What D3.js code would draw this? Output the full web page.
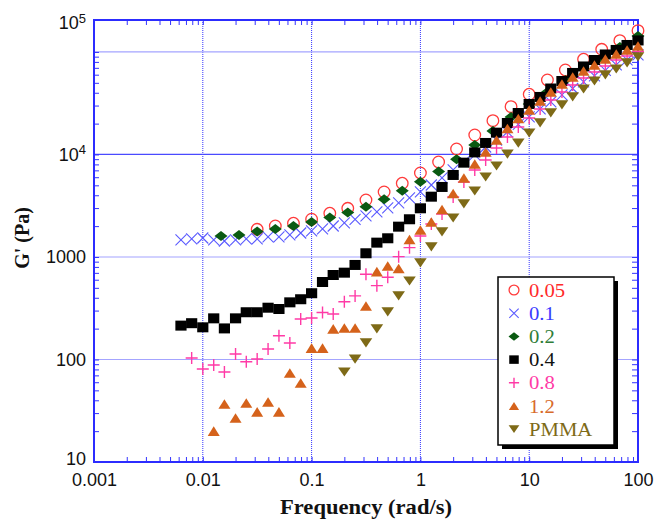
<!DOCTYPE html>
<html><head><meta charset="utf-8">
<script src="https://cdn.jsdelivr.net/npm/d3@7"></script>
<style>body{margin:0;background:#fff}</style>
</head><body>
<svg id="chart" width="658" height="520"></svg>
<script>
// ---------------- data ----------------
// frequency grid, 10 points per decade (rad/s)
const freqA = [0.0063,0.0079,0.01,0.0126,0.0158,0.02,0.0251,0.0316,0.0398,0.0501,
  0.0631,0.0794,0.1,0.126,0.158,0.2,0.251,0.316,0.398,0.501,
  0.631,0.794,1,1.26,1.58,2,2.51,3.16,3.98,5.01,
  6.31,7.94,10,12.6,15.8,20,25.1,31.6,39.8,50.1,
  63.1,79.4,100];
// frequency grid, 6 points per decade (rad/s)
const freqB = [0.0147,0.0215,0.0316,0.0464,0.0681,0.1,0.147,0.215,0.316,0.464,0.681,1,
  1.47,2.15,3.16,4.64,6.81,10,14.7,21.5,31.6,46.4,68.1,100];

// G' (Pa) for each sample; each series ends at 100 rad/s
const g005 = [1862,2006,2132,2333,2669,2985,3597,4306,5236,6604,8450,11320,15490,21370,29260,38660,53300,66710,84860,106200,128900,161400];
const g01 = [1466,1499,1532,1466,1432,1466,1499,1499,1567,1567,1640,1714,1794,1876,2006,2146,2322,2512,2748,3006,3363,3764,4306,5038,5897,7063,8450,9886,11830,13840,16580,19630,23210,27790,32530,38050,44020,50960,58340,66010,74670,83560,93470];
const g02 = [1603,1640,1774,1876,2006,2194,2429,2718,3097,3655,4434,5428,6823,8977,12380,16950,23210,31100,40700,53300,68300,87400,111900,143300];
const g04 = [214,226,206,252,201,252,289,289,320,311,361,387,443,570,667,703,836,1087,1380,1522,1976,2333,2985,3875,4820,6310,8320,10470,12950,16320,20280,25400,31100,36400,44000,52100,62400,72200,83500,94500,104600,117000,129500];
const g08 = [103.5,80.8,88.4,75.5,113,95.2,101,126.5,170.6,144.9,248,254,287,278,366,417,678,525,634,1007,1233,1603,2099,2628,3849,5391,7063,8836,11570,14820,18550,22710,27790,34020,40700,47640,55740,63800,73000,83560,91400,100700];
const g12 = [20,36.8,26.9,37.6,30.8,38.5,30.8,73.8,59,129,129,199,203,203,333,719,817,772,1482,1834,2194,2905,4165,5897,8077,10580,13840,17940,22460,27170,33260,40700,48730,57040,65260,74670,85450,95600,104600,114400];
const gPMMA = [75.5,101,145,199,291,417,583,874,1252,1754,2400,3290,4400,6030,7720,10100,12900,16200,20300,25400,30400,36400,43500,52100,59700,68200,78100,89400];

const seriesNames = ["0.05","0.1","0.2","0.4","0.8","1.2","PMMA"];
const xDomain = [0.001, 100];
const yDomain = [10, 205000];
const xTicks = [0.001,0.01,0.1,1,10,100];
const xTickLabels = ["0.001","0.01","0.1","1","10","100"];
const yTicks = [10,100,1000,10000];
const yTickLabels = ["10","100","1000","10|4"];
const yTopLabel = "10|5";
const xGrid = [0.01,0.1,1,10];
const yGridStrong = [10000];
const yGridLight = [100,1000,100000];
const xTitle = "Frequency (rad/s)";
const yTitle = "G' (Pa)";

// ---------------- chart ----------------
const W = 658, H = 520, m = {l:94, t:20, r:20, b:58};
const svg = d3.select("#chart");
const x = d3.scaleLog().domain(xDomain).range([m.l, W - m.r]);
const y = d3.scaleLog().domain(yDomain).range([H - m.b, m.t]);

const blue = "#3434ff";
const sansF = "'Liberation Sans', Arial, sans-serif";
const serifF = "'Liberation Serif', 'Times New Roman', serif";

// grid
const grid = svg.append("g");
grid.selectAll("line.gx").data(xGrid).join("line")
  .attr("x1", d => x(d)).attr("x2", d => x(d))
  .attr("y1", m.t).attr("y2", H - m.b)
  .attr("stroke", blue).attr("stroke-width", 1).attr("stroke-dasharray", "1,1");
grid.selectAll("line.gyl").data(yGridLight).join("line")
  .attr("x1", m.l).attr("x2", W - m.r)
  .attr("y1", d => y(d)).attr("y2", d => y(d))
  .attr("stroke", "#a4a4ff").attr("stroke-width", 1.2);
grid.selectAll("line.gys").data(yGridStrong).join("line")
  .attr("x1", m.l).attr("x2", W - m.r)
  .attr("y1", d => y(d)).attr("y2", d => y(d))
  .attr("stroke", "#4a4aff").attr("stroke-width", 1.3);

// minor ticks, inside, on all four sides
function styleTicks(g){ g.select(".domain").remove(); g.selectAll("line").attr("stroke", blue).attr("stroke-width",1); }
const xt = x.ticks(), yt = y.ticks().filter(v => v <= 100000);
svg.append("g").attr("transform", `translate(0,${H - m.b})`)
  .call(d3.axisBottom(x).tickValues(xt).tickSize(-5).tickFormat("")).call(styleTicks);
svg.append("g").attr("transform", `translate(0,${m.t})`)
  .call(d3.axisTop(x).tickValues(xt).tickSize(-5).tickFormat("")).call(styleTicks);
svg.append("g").attr("transform", `translate(${m.l},0)`)
  .call(d3.axisLeft(y).tickValues(yt).tickSize(-5).tickFormat("")).call(styleTicks);
svg.append("g").attr("transform", `translate(${W - m.r},0)`)
  .call(d3.axisRight(y).tickValues(yt).tickSize(-6).tickFormat("")).call(styleTicks);

// frame
svg.append("rect").attr("x", m.l).attr("y", m.t)
  .attr("width", W - m.l - m.r).attr("height", H - m.t - m.b)
  .attr("fill", "none").attr("stroke", "#2c2cff").attr("stroke-width", 2);

// tick labels
const xa = svg.append("g").attr("transform", `translate(0,${H - m.b})`)
  .call(d3.axisBottom(x).tickValues(xTicks).tickSize(0).tickPadding(11)
    .tickFormat((d,i) => xTickLabels[i]));
xa.select(".domain").remove();
xa.selectAll("text").attr("font-family", sansF).attr("font-size", 18).attr("fill", "#111");

function supLabel(sel, lab){
  const parts = lab.split("|");
  sel.text(null);
  sel.append("tspan").text(parts[0]);
  if (parts[1]) sel.append("tspan").attr("dy", "-0.5em").attr("font-size", 13).text(parts[1]);
}
const ya = svg.append("g").attr("transform", `translate(${m.l},0)`)
  .call(d3.axisLeft(y).tickValues(yTicks).tickSize(0).tickPadding(8)
    .tickFormat((d,i) => yTickLabels[i]));
ya.select(".domain").remove();
ya.selectAll("text").attr("font-family", sansF).attr("font-size", 18).attr("fill", "#111")
  .each(function(d,i){ supLabel(d3.select(this), yTickLabels[i]); });
// lowest label sits slightly above the corner so it clears the x labels
ya.selectAll(".tick").filter(d => d === yDomain[0]).select("text").attr("y", -3);
// the top label sits at the upper edge of the frame, as in the source figure
const topLab = svg.append("text").attr("x", m.l - 8).attr("y", y(yDomain[1]) + 9)
  .attr("text-anchor", "end").attr("font-family", sansF).attr("font-size", 18).attr("fill", "#111");
supLabel(topLab, yTopLabel);

// axis titles
svg.append("text").attr("transform", `translate(366,${H - 6}) scale(1.13,1)`)
  .attr("text-anchor", "middle").attr("font-family", serifF).attr("font-weight", "bold")
  .attr("font-size", 20).attr("fill", "#111").text(xTitle);
svg.append("text").attr("transform", `translate(29,238) rotate(-90)`)
  .attr("text-anchor", "middle").attr("font-family", serifF).attr("font-weight", "bold")
  .attr("font-size", 20).attr("fill", "#111").text(yTitle);

// markers
const styles = [
  {sym:"circle", stroke:"#ff3b3b", fill:"none", text:"#ff2a2a"},
  {sym:"x", stroke:"#5a5aff", fill:"none", text:"#3a3aff"},
  {sym:"diamond", stroke:"none", fill:"#0a5a12", text:"#2f7d38"},
  {sym:"square", stroke:"none", fill:"#000", text:"#111"},
  {sym:"plus", stroke:"#ff3aa6", fill:"none", text:"#ff3aa6"},
  {sym:"tri", stroke:"none", fill:"#d5621b", text:"#d86a2a"},
  {sym:"tridown", stroke:"none", fill:"#7e6a17", text:"#7e6a17"}
];
function symPath(sym, k){
  k = k || 1;
  switch(sym){
    case "x": { const a = 5.5*k; return `M${-a},${-a}L${a},${a}M${-a},${a}L${a},${-a}`; }
    case "plus": { const a = 6*k; return `M${-a},0L${a},0M0,${-a}L0,${a}`; }
    case "diamond": { const w = 6.5*k, h = 5*k; return `M0,${-h}L${w},0L0,${h}L${-w},0Z`; }
    case "square": { const w = 5.6*k, h = 5*k; return `M${-w},${-h}L${w},${-h}L${w},${h}L${-w},${h}Z`; }
    case "tri": { const w = 6*k, h = 4.8*k; return `M0,${-h}L${w},${h}L${-w},${h}Z`; }
    case "tridown": { const w = 6.3*k, h = 4.6*k; return `M${-w},${-h}L${w},${-h}L0,${h}Z`; }
  }
}
function drawMarker(g, st, k){
  if (st.sym === "circle") {
    g.append("circle").attr("r", 5.8*(k||1)).attr("fill", "none")
      .attr("stroke", st.stroke).attr("stroke-width", 1.3);
  } else {
    g.append("path").attr("d", symPath(st.sym, k))
      .attr("fill", st.fill).attr("stroke", st.stroke)
      .attr("stroke-width", st.sym === "plus" ? 1.4 : 1.1);
  }
}
const seriesData = [
  {vals: g005, freqs: freqB},
  {vals: g01, freqs: freqA},
  {vals: g02, freqs: freqB},
  {vals: g04, freqs: freqA},
  {vals: g08, freqs: freqA},
  {vals: g12, freqs: freqA},
  {vals: gPMMA, freqs: freqA}
];
const plot = svg.append("g");
seriesData.forEach((s, si) => {
  const off = s.freqs.length - s.vals.length;
  const pts = s.vals.map((v, i) => ({f: s.freqs[off + i], g: v}));
  plot.append("g").selectAll("g").data(pts).join("g")
    .attr("transform", d => `translate(${x(d.f)},${y(d.g)})`)
    .each(function(){ drawMarker(d3.select(this), styles[si]); });
});

// legend
const lg = svg.append("g").attr("transform", "translate(498,277)");
lg.append("rect").attr("x", 4).attr("y", 4).attr("width", 116).attr("height", 168).attr("fill", "#000");
lg.append("rect").attr("x", 0).attr("y", 0).attr("width", 116).attr("height", 168)
  .attr("fill", "#fff").attr("stroke", "#000").attr("stroke-width", 1.5);
seriesNames.forEach((nm, i) => {
  const row = lg.append("g").attr("transform", `translate(0,${13 + i*23.2})`);
  drawMarker(row.append("g").attr("transform", "translate(16,0)"), styles[i], 0.85);
  row.append("text").attr("transform", "translate(31,6.5) scale(1.15,1)")
    .attr("font-family", serifF).attr("font-size", 18).attr("fill", styles[i].text).text(nm);
});
</script>
</body></html>
